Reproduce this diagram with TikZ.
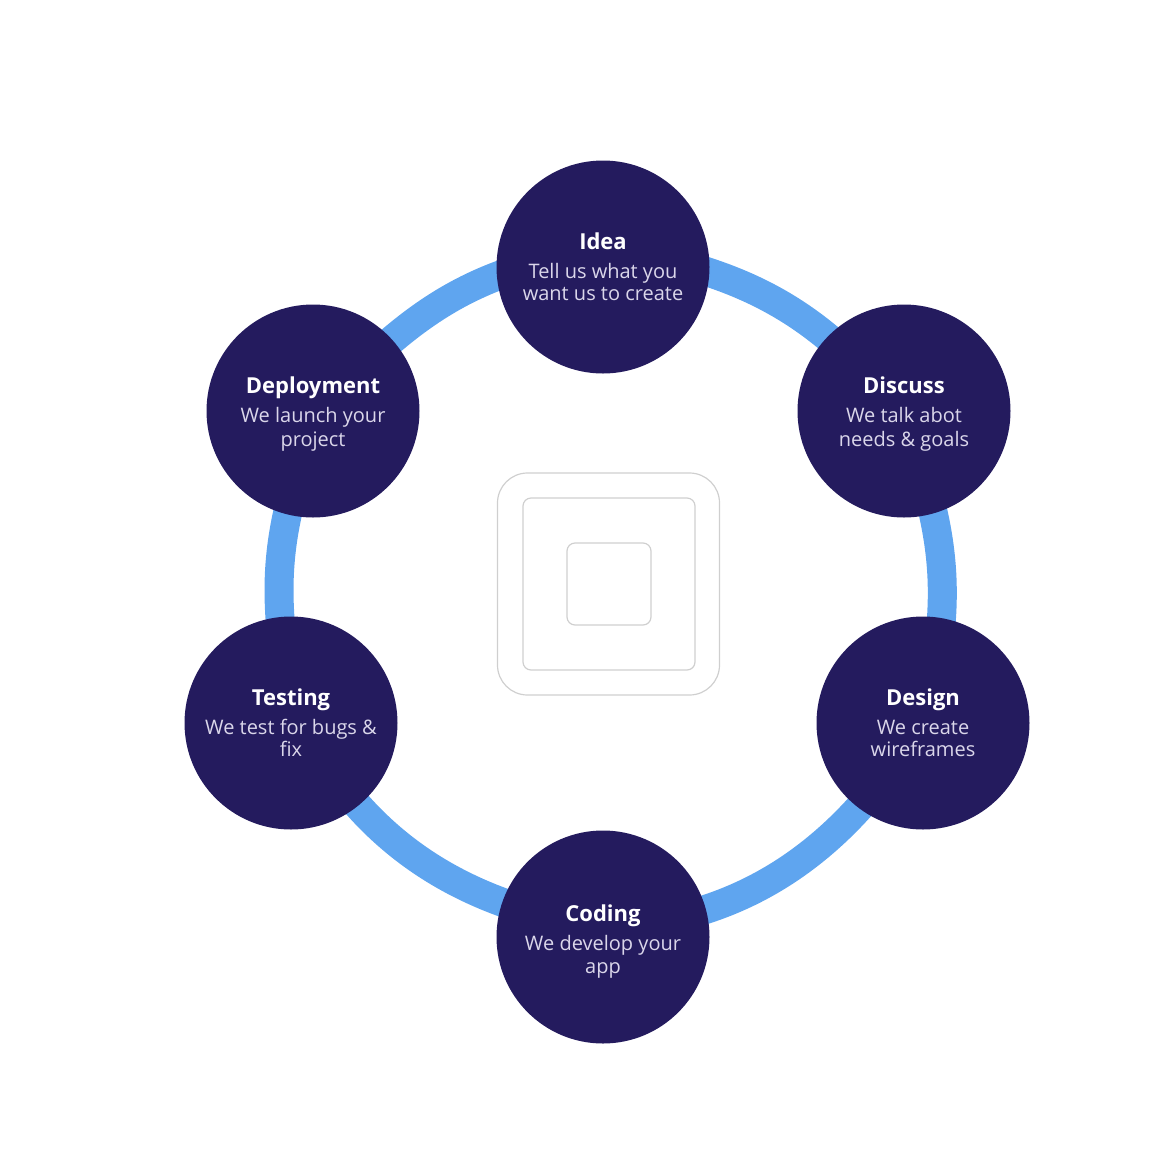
\documentclass[tikz,border=0pt]{standalone}
\usepackage{fontspec}
\setmainfont{Open Sans}
\usetikzlibrary{backgrounds}
\definecolor{stepnavy}{HTML}{241B5E}
\definecolor{ringblue}{HTML}{5FA5EF}
\definecolor{bodylav}{HTML}{DAD6EA}
\definecolor{logogray}{HTML}{CFCFCF}

\begin{document}
\begin{tikzpicture}[
  x=0.5pt, y=0.5pt,
  stepnode/.style = {
    circle, fill=stepnavy,
    minimum size=106.5pt,
    inner sep=0pt,
    align=center,
    text=bodylav,
    font=\fontsize{10pt}{11pt}\selectfont
  },
  ringlink/.style = {
    line width=14.5pt, color=ringblue,
    looseness=0.85,
    shorten >=-4pt, shorten <=-4pt
  },
  logosquare/.style = {
    draw=logogray, line width=0.6pt,
    inner sep=0pt
  }
]
% title line, with an optional strut to drop the text in its circle
\newcommand{\steptitle}[2][0pt]{\rule{0pt}{#1}{\fontsize{11pt}{14pt}\selectfont\color{white}\textbf{#2}}\\[3.5pt]}

\useasboundingbox (0,0) rectangle (1158,-1168);

% ---- steps ----
\node[stepnode] (idea)    at (603,-267) {\steptitle{Idea}Tell us what you\\want us to create};
\node[stepnode] (discuss) at (904,-411) {\steptitle[11pt]{Discuss}We talk abot\\[1pt]needs \& goals};
\node[stepnode] (design)  at (923,-723) {\steptitle{Design}We create\\wireframes};
\node[stepnode] (coding)  at (603,-937) {\steptitle[12.5pt]{Coding}We develop your\\[0.5pt]app};
\node[stepnode] (testing) at (291,-723) {\steptitle{Testing}We test for bugs \&\\fix};
\node[stepnode] (deploy)  at (313,-411) {\steptitle[11pt]{Deployment}We launch your\\[1pt]project};

% ---- logo in the middle ----
\node[logosquare, rounded corners=15pt, minimum width=111pt, minimum height=111pt] (logoouter) at (608.5,-584) {};
\node[logosquare, rounded corners=4pt, minimum width=86pt, minimum height=86pt] (logomid) at (609,-584) {};
\node[logosquare, rounded corners=4pt, minimum width=42pt, minimum height=41pt] (logoinner) at (609,-584) {};

% ---- ring ----
\begin{scope}[on background layer]
  \draw[ringlink] (idea.-3.4) to[out=-17.5, in=139.4] (discuss.136.9);
  \draw[ringlink] (discuss.-74.2) to[out=-76.8, in=85.3] (design.80.4);
  \draw[ringlink] (design.233.5) to[out=-131.3, in=16.8] (coding.15.8);
  \draw[ringlink] (coding.161.9) to[out=160.8, in=-49.4] (testing.-51.2);
  \draw[ringlink] (testing.96.4) to[out=94.6, in=-103.1] (deploy.-104.3);
  \draw[ringlink] (deploy.42.1) to[out=40.9, in=199.9] (idea.185.8);
\end{scope}

\end{tikzpicture}
\end{document}
